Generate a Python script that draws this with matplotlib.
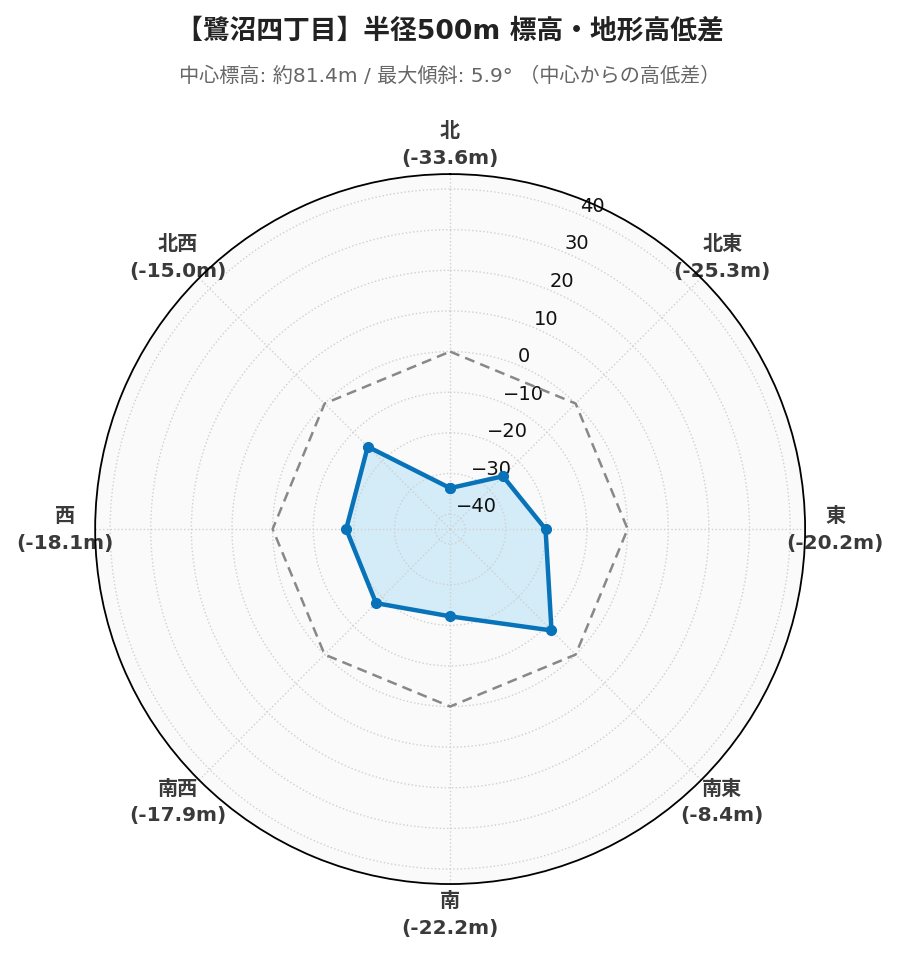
import numpy as np
import matplotlib
matplotlib.use("Agg")
import matplotlib.pyplot as plt

# fonts: DejaVu for latin, CJK as fallback
plt.rcParams['font.family'] = ['DejaVu Sans', 'Noto Sans CJK JP']

# data
directions = ['北', '北東', '東', '南東', '南', '南西', '西', '北西']
diffs = [-33.6, -25.3, -20.2, -8.4, -22.2, -17.9, -18.1, -15.0]
r_ticks = [-40, -30, -20, -10, 0, 10, 20, 30, 40]
title = '【鷺沼四丁目】半径500m 標高・地形高低差'
subtitle = '中心標高: 約81.4m / 最大傾斜: 5.9° （中心からの高低差）'

# radial range: symmetric, 1.3x the largest deviation
r_lim = max(abs(v) for v in diffs) * 1.3

angles = np.deg2rad(np.arange(len(directions)) * 45.0)
theta = np.append(angles, angles[0])
vals = np.append(diffs, diffs[0])
zero = np.zeros_like(theta)

fig = plt.figure(figsize=(8.99, 9.62), dpi=100)
ax = fig.add_axes([0.1057, 0.080, 0.790, 0.738], projection='polar')
ax.set_theta_zero_location('N')
ax.set_theta_direction(-1)
ax.set_ylim(-r_lim, r_lim)
ax.set_facecolor('#fafafa')

# zero reference
ax.plot(theta, zero, color='#888888', lw=1.8, ls=(0, (4, 2.5)), zorder=1.8)

# elevation differences (kept below the axis so tick labels stay on top)
ax.fill(theta, vals, color='#d3ecf8', zorder=1.5)
ax.plot(theta, vals, color='#0873b9', lw=3.2, marker='o', markersize=7, zorder=2)

# grids
ax.set_xticks(angles)
ax.set_xticklabels([''] * len(directions))
ax.set_yticks(r_ticks)
ax.set_yticklabels([f'{t}'.replace('-', '\u2212') for t in r_ticks],
                   fontsize=14, family='DejaVu Sans', color='#111111')
ax.set_rlabel_position(22.5)
ax.grid(True, color='#d0d0d0', ls=':', lw=1.0)
ax.spines['polar'].set_color('black')
ax.spines['polar'].set_linewidth(1.3)
ax.spines['polar'].set_zorder(6)

# direction labels outside the circle
r_text = r_lim + 2 * r_lim * 30 / 355
for a, d, v in zip(angles, directions, diffs):
    ax.text(a, r_text, f'{d}\n({v:.1f}m)', ha='center', va='center',
            fontsize=14.5, fontweight='bold', color='#3a3a3a',
            linespacing=1.5, clip_on=False, zorder=2)

fig.text(0.5, 0.967, title, ha='center', va='center', fontsize=19.3,
         fontweight='bold', color='#222222')
fig.text(0.5, 0.921, subtitle, ha='center', va='center', fontsize=14.5,
         color='#666666')

fig.savefig('out.png', dpi=100)
